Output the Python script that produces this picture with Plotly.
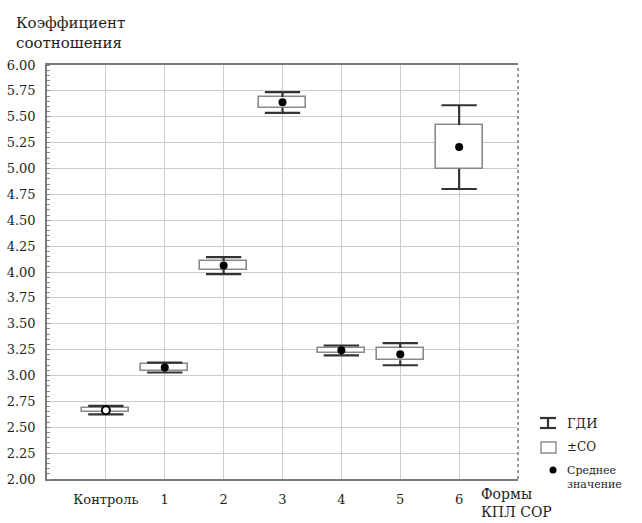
import plotly.graph_objects as go

# ---- data ----
categories = ["Контроль", "1", "2", "3", "4", "5", "6"]
means   = [2.665, 3.077, 4.063, 5.640, 3.245, 3.205, 5.207]
sd_low  = [2.643, 3.044, 4.024, 5.586, 3.222, 3.147, 4.998]
sd_high = [2.682, 3.108, 4.104, 5.690, 3.268, 3.265, 5.419]
ci_low  = [2.624, 3.029, 3.979, 5.537, 3.195, 3.099, 4.802]
ci_high = [2.707, 3.125, 4.143, 5.737, 3.290, 3.312, 5.611]
y_ticks = [2 + 0.25 * i for i in range(17)]

FONT = "DejaVu Serif"
TXT = "#1e1e1e"
CAP = 0.3      # half width of whisker caps (category units)
BOXW = 0.8     # box width (category units)

xs = list(range(len(categories)))

# whiskers as line segments
wx, wy = [], []
for i in xs:
    wx += [i, i, None, i - CAP, i + CAP, None]
    wy += [sd_high[i], ci_high[i], None, ci_high[i], ci_high[i], None]
    wx += [i, i, None, i - CAP, i + CAP, None]
    wy += [sd_low[i], ci_low[i], None, ci_low[i], ci_low[i], None]

fig = go.Figure()
fig.add_trace(go.Bar(
    x=xs, y=[h - l for h, l in zip(sd_high, sd_low)], base=sd_low,
    width=BOXW, marker=dict(color="white", line=dict(color="#8a8a8a", width=1.6)),
    showlegend=False, hoverinfo="skip"))
fig.add_trace(go.Scatter(
    x=wx, y=wy, mode="lines", line=dict(color="#333333", width=2.2),
    showlegend=False, hoverinfo="skip"))
fig.add_trace(go.Scatter(
    x=xs, y=means, mode="markers",
    marker=dict(size=8, color=["white"] + ["black"] * 6,
                line=dict(color="black", width=[2] + [0] * 6)),
    showlegend=False))

L, R, T, B = 47, 518, 65, 479
W, H = 642, 523


def px(x):
    return (x - L) / (R - L)


def py(y):
    return (B - y) / (B - T)


shapes = [
    # dotted right frame edge
    dict(type="line", xref="paper", yref="paper", x0=1, x1=1, y0=0, y1=1,
         line=dict(color="#7a7a7a", width=1.5, dash="dot")),
    # legend icons
    dict(type="line", xref="paper", yref="paper", x0=px(540), x1=px(556), y0=py(418), y1=py(418),
         line=dict(color="#333", width=2.2)),
    dict(type="line", xref="paper", yref="paper", x0=px(540), x1=px(556), y0=py(428), y1=py(428),
         line=dict(color="#333", width=2.2)),
    dict(type="line", xref="paper", yref="paper", x0=px(548), x1=px(548), y0=py(418), y1=py(428),
         line=dict(color="#333", width=2.2)),
    dict(type="rect", xref="paper", yref="paper", x0=px(541), x1=px(556), y0=py(442), y1=py(453),
         line=dict(color="#8a8a8a", width=1.4), fillcolor="white"),
    dict(type="circle", xref="paper", yref="paper", x0=px(549.5), x1=px(556.5), y0=py(466.5), y1=py(473.5),
         line=dict(color="black", width=0), fillcolor="black"),
]

annotations = [
    dict(text="Коэффициент<br>соотношения", xref="paper", yref="paper", x=px(14), y=py(12),
         xanchor="left", yanchor="top", align="left", showarrow=False,
         font=dict(family=FONT, size=15, color=TXT)),
    dict(text="ГДИ", xref="paper", yref="paper", x=px(565), y=py(423), xanchor="left", yanchor="middle",
         showarrow=False, font=dict(family=FONT, size=13, color=TXT)),
    dict(text="±СО", xref="paper", yref="paper", x=px(565), y=py(447), xanchor="left", yanchor="middle",
         showarrow=False, font=dict(family=FONT, size=12, color=TXT)),
    dict(text="Среднее<br>значение", xref="paper", yref="paper", x=px(565), y=py(477), xanchor="left",
         yanchor="middle", align="left", showarrow=False,
         font=dict(family=FONT, size=11, color=TXT)),
    dict(text="Формы<br>КПЛ СОР", xref="paper", yref="paper", x=px(479), y=py(503), xanchor="left",
         yanchor="middle", align="left", showarrow=False,
         font=dict(family=FONT, size=14, color=TXT)),
]

fig.update_layout(
    width=W, height=H,
    margin=dict(l=L, r=W - R, t=T, b=H - B, pad=0, autoexpand=False),
    paper_bgcolor="white", plot_bgcolor="white",
    font=dict(family=FONT, size=13, color=TXT),
    shapes=shapes, annotations=annotations,
    bargap=0, showlegend=False,
    xaxis=dict(range=[-1, 7], tickmode="array", tickvals=xs, ticktext=categories,
               showgrid=True, gridcolor="#cccccc", gridwidth=1, automargin=False,
               showline=True, linecolor="#7a7a7a", linewidth=1.5, mirror=True,
               ticks="", ticklabelstandoff=8, zeroline=False,
               tickfont=dict(family=FONT, size=13, color=TXT)),
    yaxis=dict(range=[2, 6], tickmode="array", tickvals=y_ticks,
               ticktext=["%.2f" % v for v in y_ticks], automargin=False,
               showgrid=True, gridcolor="#cccccc", gridwidth=1,
               showline=True, linecolor="#7a7a7a", linewidth=1.5, mirror=False,
               ticks="", ticklabelstandoff=7, zeroline=False,
               minor=dict(ticks="inside", ticklen=3, tickcolor="#888888", dtick=0.05, showgrid=False),
               tickfont=dict(family=FONT, size=13, color=TXT)),
)

fig.write_html("out.html", config={"displayModeBar": False},
               post_script="document.body.style.margin='0px';")
